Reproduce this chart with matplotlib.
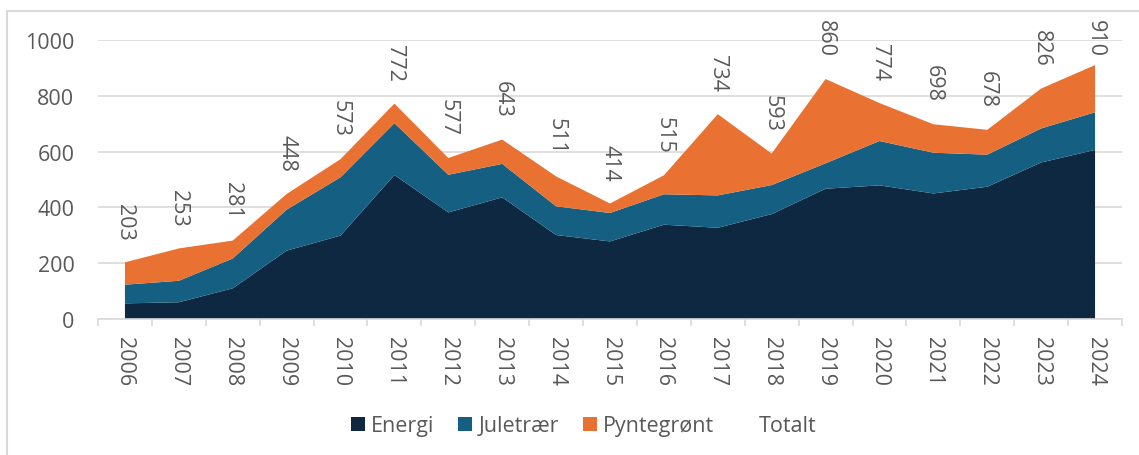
import numpy as np
import matplotlib.pyplot as plt
from matplotlib.patches import Rectangle

# data
years = list(range(2006, 2025))
energi = [56, 60, 110, 245, 299, 516, 382, 436, 301, 278, 338, 327, 376, 467, 479, 450, 474, 561, 606]
juletraer = [67, 77, 107, 147, 209, 186, 135, 120, 103, 102, 109, 116, 104, 91, 159, 146, 115, 122, 135]
totalt = [203, 253, 281, 448, 573, 772, 577, 643, 511, 414, 515, 734, 593, 860, 774, 698, 678, 826, 910]
pyntegront = [t - e - j for t, e, j in zip(totalt, energi, juletraer)]

c_energi = '#0E2841'
c_jul = '#156082'
c_pynt = '#E97132'
grey = '#595959'
fs = 15.5

plt.rcParams['font.family'] = ['Open Sans', 'DejaVu Sans']

W, H = 1139, 456
fig = plt.figure(figsize=(W / 100, H / 100), dpi=100)

# chart border (cropped on right/bottom in the original)
fig.patches.append(Rectangle((7 / W, -0.1), 1.2, 1 - 12 / H + 0.1, transform=fig.transFigure,
                             fill=False, edgecolor='#D9D9D9', linewidth=1.5))

ax = fig.add_axes([98 / W, 136 / H, (1122 - 98) / W, 279 / H])
ax.stackplot(years, energi, juletraer, pyntegront, colors=[c_energi, c_jul, c_pynt],
             labels=['Energi', 'Juletrær', 'Pyntegrønt'], linewidth=0, zorder=2)
# Totalt series is invisible, only used for labels/legend
ax.plot(years, totalt, linestyle='none', marker='none', label='Totalt')

# labels sit above the point, but are kept inside the chart area at the top
for x, t in zip(years, totalt):
    base = min(t + 82, 943)
    ax.text(x, base, str(t), rotation=-90, ha='center', va='bottom',
            fontsize=fs, color=grey, clip_on=False)

ax.set_xlim(2005.5, 2024.5)
ax.set_ylim(0, 1000)
ax.set_yticks(range(0, 1001, 200))
ax.yaxis.grid(True, color='#D9D9D9', linewidth=1.2, zorder=0)
ax.set_axisbelow(True)

ax.set_xticks(years)
ax.set_xticklabels([str(y) for y in years], rotation=-90)
ax.set_xticks(np.arange(2005.5, 2025, 1), minor=True)
ax.tick_params(axis='x', which='major', length=0, pad=12, labelsize=fs, labelcolor=grey)
ax.tick_params(axis='x', which='minor', length=5, width=1.2, color='#D9D9D9')
ax.tick_params(axis='y', length=0, pad=17, labelsize=fs, labelcolor=grey)

for s in ['top', 'right', 'left']:
    ax.spines[s].set_visible(False)
ax.spines['bottom'].set_color('#D9D9D9')
ax.spines['bottom'].set_linewidth(1.2)
ax.spines['bottom'].set_zorder(3)

ax.legend(loc='center', bbox_to_anchor=(0.474, (H - 427 - 136) / 279), ncol=4, frameon=False,
          fontsize=fs, labelcolor=grey, handlelength=0.65, handleheight=0.65,
          handletextpad=0.3, columnspacing=1.1)

fig.savefig('out.png', dpi=100)
